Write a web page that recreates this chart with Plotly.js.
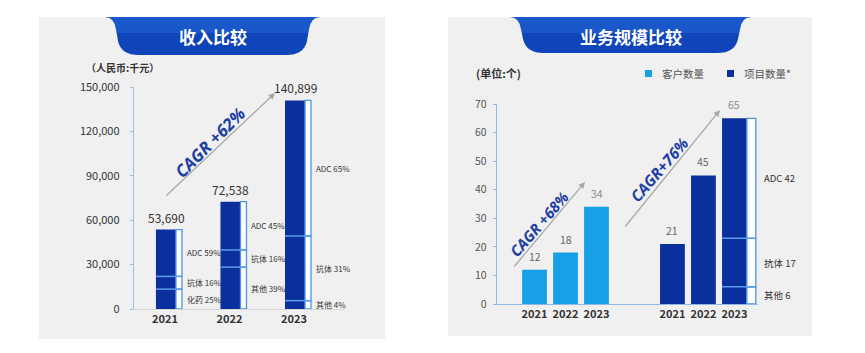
<!DOCTYPE html>
<html><head><meta charset="utf-8">
<script src="https://cdn.plot.ly/plotly-3.0.1.min.js"></script>
<style>html,body{margin:0;padding:0;background:#fff;}#chart{width:865px;height:353px;}</style>
</head><body><div id="chart"></div>
<script>
// ---------- data ----------
const years = ['2021', '2022', '2023'];
const revenue = [53690, 72538, 140899];
const revSegNames = [['化药', '抗体', 'ADC'], ['其他', '抗体', 'ADC'], ['其他', '抗体', 'ADC']];
const revSegPct = [[25, 16, 59], [39, 16, 45], [4, 31, 65]];
const revYTicks = [0, 30000, 60000, 90000, 120000, 150000];
const customers = [12, 18, 34];
const projects = [21, 45, 65];
const projSegNames = ['其他', '抗体', 'ADC'];
const projSeg2023 = [6, 17, 42];
const scaleYTicks = [0, 10, 20, 30, 40, 50, 60, 70];
const titleLeft = '收入比较', titleRight = '业务规模比较';
const unitLeft = '（人民币:千元）', unitRight = '(单位:个)';
const legendNames = ['客户数量', '项目数量*'];
const cagrRevenue = 'CAGR +62%', cagrCustomers = 'CAGR +68%', cagrProjects = 'CAGR+76%';

// ---------- style ----------
const W = 865, H = 353;
const NAVY = '#0b309e', LIGHT = '#18a0e6', BRK = '#4b95e3', DIV = '#5c9ce8';
const FONT = 'Noto Sans CJK SC, Noto Sans, sans-serif';
const px = x => x / W, py = y => 1 - y / H;
const fmt = v => v.toLocaleString('en-US');

const traces = [];
const shapes = [];
const ann = [];
function pAnn(o) { ann.push(Object.assign({xref: 'paper', yref: 'paper', xanchor: 'center', yanchor: 'middle', showarrow: false}, o)); }

// panels
shapes.push({type: 'rect', xref: 'paper', yref: 'paper', x0: px(39), x1: px(385), y0: py(339), y1: py(17), fillcolor: '#f0f0f0', line: {width: 0}, layer: 'below'});
shapes.push({type: 'rect', xref: 'paper', yref: 'paper', x0: px(448), x1: px(812), y0: py(336), y1: py(17), fillcolor: '#f0f0f0', line: {width: 0}, layer: 'below'});

function banner(l, r, top, bot) {
  const P = (x, y) => px(x) + ',' + py(y);
  const path = 'M' + P(l, top) +
    ' Q' + P(l + 9, top) + ' ' + P(l + 11, top + 12) +
    ' L' + P(l + 13, bot - 14) +
    ' Q' + P(l + 16, bot) + ' ' + P(l + 34, bot) +
    ' L' + P(r - 34, bot) +
    ' Q' + P(r - 16, bot) + ' ' + P(r - 13, bot - 14) +
    ' L' + P(r - 11, top + 12) +
    ' Q' + P(r - 9, top) + ' ' + P(r, top) + ' Z';
  shapes.push({type: 'path', xref: 'paper', yref: 'paper', path: path, fillcolor: '#0f45b8', line: {width: 0}, layer: 'above'});
  // lighter upper band for a gradient impression
  const path2 = 'M' + P(l, top) +
    ' Q' + P(l + 9, top) + ' ' + P(l + 11, top + 12) +
    ' L' + P(l + 12, top + 16) + ' L' + P(r - 12, top + 16) +
    ' L' + P(r - 11, top + 12) + ' Q' + P(r - 9, top) + ' ' + P(r, top) + ' Z';
  shapes.push({type: 'path', xref: 'paper', yref: 'paper', path: path2, fillcolor: 'rgba(40,110,225,0.45)', line: {width: 0}, layer: 'above'});
}
banner(105, 320, 17, 55);
banner(510, 751, 17, 53);

pAnn({x: px(213), y: py(37), text: '<b>' + titleLeft + '</b>', font: {family: FONT, size: 17, color: '#ffffff'}});
pAnn({x: px(631), y: py(36), text: '<b>' + titleRight + '</b>', font: {family: FONT, size: 17, color: '#ffffff'}});
pAnn({x: px(84), y: py(68), xanchor: 'left', text: '<b>' + unitLeft + '</b>', font: {family: FONT, size: 10, color: '#333'}});
pAnn({x: px(474), y: py(73), xanchor: 'left', text: '<b>' + unitRight + '</b>', font: {family: FONT, size: 11, color: '#333'}});

// legend (manual)
[[645, LIGHT, legendNames[0]], [727, NAVY, legendNames[1]]].forEach(([x, c, t]) => {
  shapes.push({type: 'rect', xref: 'paper', yref: 'paper', x0: px(x), x1: px(x + 7), y0: py(77), y1: py(70), fillcolor: c, line: {width: 0}});
  pAnn({x: px(x + 15), y: py(73.5), xanchor: 'left', text: t, font: {family: FONT, size: 10.5, color: '#555'}});
});

// ---------- left: revenue ----------
const xi = years.map((_, i) => i);
traces.push({type: 'bar', x: xi, y: revenue, base: 0, offset: -0.14, width: 0.31, marker: {color: NAVY, line: {width: 0}}, xaxis: 'x', yaxis: 'y', hoverinfo: 'skip'});
for (let k = 0; k < 3; k++) {
  const ys = [], bs = [];
  xi.forEach(i => {
    let cum = 0; for (let j = 0; j < k; j++) cum += revSegPct[i][j];
    bs.push(revenue[i] * cum / 100); ys.push(revenue[i] * revSegPct[i][k] / 100);
    ann.push({xref: 'x', yref: 'y', x: i + 0.263, xshift: 3, y: revenue[i] * (cum + revSegPct[i][k] / 2) / 100, xanchor: 'left', yanchor: 'middle', showarrow: false,
      text: revSegNames[i][k] + ' ' + revSegPct[i][k] + '%', font: {family: FONT, size: 8, color: '#333'}});
    if (k > 0) shapes.push({type: 'line', xref: 'x', yref: 'y', x0: i - 0.14, x1: i + 0.263, y0: revenue[i] * cum / 100, y1: revenue[i] * cum / 100, line: {color: DIV, width: 1.5}});
  });
  traces.push({type: 'bar', x: xi, y: ys, base: bs, offset: 0.17, width: 0.093, marker: {color: '#ffffff', line: {color: BRK, width: 1.3}}, xaxis: 'x', yaxis: 'y', hoverinfo: 'skip'});
}
xi.forEach(i => ann.push({xref: 'x', yref: 'y', x: i + 0.02, y: revenue[i], xanchor: 'center', yanchor: 'bottom', yshift: 2, showarrow: false, text: fmt(revenue[i]), font: {family: FONT, size: 12, color: '#333'}}));

// ---------- right: scale ----------
const projX = xi.map(i => i + 4.45);
traces.push({type: 'bar', x: xi, y: customers, width: 0.8, marker: {color: LIGHT}, xaxis: 'x2', yaxis: 'y2', hoverinfo: 'skip'});
traces.push({type: 'bar', x: projX, y: projects, width: 0.8, marker: {color: NAVY}, xaxis: 'x2', yaxis: 'y2', hoverinfo: 'skip'});
{
  const last = projX[2];
  let cum = 0;
  projSeg2023.forEach((v, k) => {
    traces.push({type: 'bar', x: [last], y: [v], base: [cum], offset: 0.4, width: 0.29, marker: {color: '#ffffff', line: {color: BRK, width: 1.3}}, xaxis: 'x2', yaxis: 'y2', hoverinfo: 'skip'});
    ann.push({xref: 'x2', yref: 'y2', x: last + 0.69, xshift: 6, y: cum + v / 2, xanchor: 'left', yanchor: 'middle', showarrow: false, text: projSegNames[k] + ' ' + v, font: {family: FONT, size: 9.5, color: '#333'}});
    if (k > 0) shapes.push({type: 'line', xref: 'x2', yref: 'y2', x0: last - 0.4, x1: last + 0.69, y0: cum, y1: cum, line: {color: DIV, width: 1.5}});
    cum += v;
  });
}
xi.forEach(i => {
  ann.push({xref: 'x2', yref: 'y2', x: i, y: customers[i], xanchor: 'center', yanchor: 'bottom', yshift: 4, showarrow: false, text: String(customers[i]), font: {family: FONT, size: 10.5, color: i === 2 ? '#8a8a8a' : '#666'}});
  ann.push({xref: 'x2', yref: 'y2', x: projX[i], y: projects[i], xanchor: 'center', yanchor: 'bottom', yshift: 4, showarrow: false, text: String(projects[i]), font: {family: FONT, size: 10.5, color: i === 2 ? '#8a8a8a' : '#666'}});
});

// ---------- CAGR arrows & text ----------
function cagr(head, tail, center, text, size, angle) {
  ann.push({xref: 'paper', yref: 'paper', x: px(head[0]), y: py(head[1]), ax: tail[0] - head[0], ay: tail[1] - head[1], axref: 'pixel', ayref: 'pixel', text: '', showarrow: true, arrowhead: 2, arrowsize: 1, arrowwidth: 1.3, arrowcolor: '#a8a8a8', standoff: 0});
  pAnn({x: px(center[0]), y: py(center[1]), text: '<b><i>' + text + '</i></b>', textangle: angle, font: {family: 'Open Sans, Noto Sans, sans-serif', size: size, color: '#1d3fa3'}});
}
cagr([275, 93], [165, 197], [210, 143], cagrRevenue, 17, -45);
cagr([585, 182], [513, 268], [539, 224], cagrCustomers, 15, -49);
cagr([720, 110], [624, 228], [659, 170], cagrProjects, 15.5, -49);

const layout = {
  width: W, height: H, margin: {l: 0, r: 0, t: 0, b: 0}, paper_bgcolor: '#ffffff', plot_bgcolor: 'rgba(0,0,0,0)',
  showlegend: false, barmode: 'overlay', font: {family: FONT},
  xaxis: {domain: [px(134), px(345)], range: [-0.48, 2.79], tickvals: xi, ticktext: years.map(y => '<b>' + y + '</b>'), showline: true, linecolor: '#d6d6d6', linewidth: 1, ticks: '', showgrid: false, zeroline: false, tickfont: {size: 11, color: '#333'}},
  yaxis: {domain: [py(309), py(87)], range: [0, 150000], tickvals: revYTicks, ticktext: revYTicks.map(fmt), showline: true, linecolor: '#9cc0ea', linewidth: 1.2, ticks: 'outside', ticklen: 3, tickcolor: '#9cc0ea', ticklabelstandoff: 8, showgrid: false, zeroline: false, tickfont: {size: 11, color: '#333'}},
  xaxis2: {domain: [px(497), px(758)], range: [-1.21, 7.21], anchor: 'y2', tickvals: xi.concat(projX), ticktext: years.concat(years).map(y => '<b>' + y + '</b>'), showline: true, linecolor: '#8fb8e8', linewidth: 1.2, ticks: '', showgrid: false, zeroline: false, tickfont: {size: 11, color: '#333'}},
  yaxis2: {domain: [py(304), py(104)], range: [0, 70], anchor: 'x2', tickvals: scaleYTicks, showline: true, linecolor: '#8fb8e8', linewidth: 1.2, ticks: 'outside', ticklen: 3, tickcolor: '#8fb8e8', ticklabelstandoff: 4, showgrid: false, zeroline: false, tickfont: {size: 10.5, color: '#555'}},
  shapes: shapes, annotations: ann
};
Plotly.newPlot('chart', traces, layout, {displayModeBar: false, staticPlot: true});
</script>
</body></html>
